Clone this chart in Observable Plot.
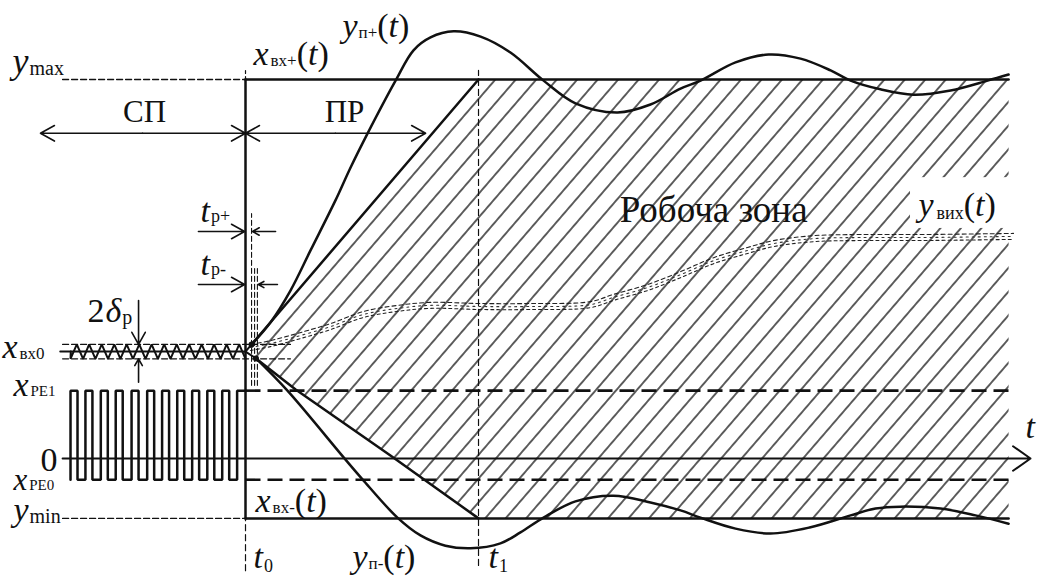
<!DOCTYPE html>
<html>
<head>
<meta charset="utf-8">
<script src="https://cdn.jsdelivr.net/npm/d3@7"></script>
<script src="https://cdn.jsdelivr.net/npm/@observablehq/plot@0.6"></script>
<style>
  html, body { margin: 0; padding: 0; background: #fff; }
  #chart svg { display: block; }
</style>
</head>
<body>
<div id="chart"></div>
<script>
// Signal levels (relative units: y_max = 10) and time marks (t0 = 0, t1 = 10)
const yMax = 10, yMin = -1.58;
const xIn0 = 2.82, xIn0Hi = 3.01, xIn0Lo = 2.63;
const xPE1 = 1.79, xPE0 = -0.56;
const t0 = 0, t1 = 10, tEnd = 32.75, tLeft = -7.85, tAxisEnd = 33.69;
const tpPlus = 0.26, tpMinus = [0.39, 0.51];

// Upper transient envelope y_п+(t)
const ypPlusT = [0.26, 1.07, 1.93, 2.79, 3.86, 4.51, 5.24, 6.44, 7.21, 7.94, 8.93, 10.09, 11.37, 12.79, 14.16, 15.97, 17.38, 18.67, 19.53, 21.03, 22.45, 23.82, 25.11, 25.97, 27.25, 28.67, 30.26, 31.85, 32.75];
const ypPlusV = [3.01, 3.59, 4.43, 5.49, 6.81, 7.68, 8.58, 9.97, 10.77, 11.11, 11.27, 11.13, 10.71, 9.97, 9.37, 9.13, 9.34, 9.76, 9.97, 10.45, 10.66, 10.55, 10.24, 9.97, 9.74, 9.60, 9.71, 9.97, 10.13];

// Lower transient envelope y_п-(t)
const ypMinusT = [0.45, 1.80, 4.21, 5.02, 6.52, 7.51, 8.58, 9.66, 10.94, 11.80, 12.79, 14.16, 15.79, 17.38, 18.67, 19.53, 21.03, 22.53, 24.21, 25.97, 27.04, 28.11, 29.83, 31.33, 32.75];
const ypMinusV = [2.64, 1.79, 0.03, -0.55, -1.56, -2.03, -2.30, -2.37, -2.24, -1.95, -1.56, -1.13, -0.98, -1.16, -1.37, -1.56, -1.85, -1.98, -1.82, -1.50, -1.32, -1.27, -1.32, -1.50, -1.72];

// Boundaries of the working zone during transition (t0..t1)
const upperT = [tpPlus, t1], upperV = [xIn0Hi, yMax];
const lowerT = [0.45, 2.15, 6.22, t1], lowerV = [2.64, 1.82, 0.08, yMin];

// Output signal y_вих(t)
const yOutT = [0.21, 1.07, 1.93, 2.79, 3.65, 5.06, 6.52, 7.94, 10.09, 12.23, 14.81, 15.79, 17.25, 18.67, 20.09, 21.55, 22.66, 24.38, 26.39, 28.97, 32.96];
const yOutV = [2.93, 3.03, 3.17, 3.32, 3.48, 3.80, 3.96, 4.04, 4.01, 4.01, 4.06, 4.25, 4.51, 4.85, 5.22, 5.49, 5.67, 5.80, 5.83, 5.83, 5.86];

// Ripple of the input x_вх0 before t0: times of upper and lower turning points
const zigTopT = [-7.24, -6.71, -6.17, -5.63, -5.10, -4.56, -4.03, -3.49, -2.95, -2.42, -1.88, -1.35, -0.81, -0.27];
const zigLowT = [-7.51, -6.97, -6.44, -5.90, -5.37, -4.83, -4.29, -3.76, -3.22, -2.68, -2.15, -1.61, -1.07, -0.54, 0.00];

// Pulse train between x_PE0 and x_PE1: rising and falling edge times
const riseT = [-7.51, -6.87, -6.21, -5.57, -4.89, -4.22, -3.58, -2.93, -2.29, -1.64, -1.00, -0.36];
const fallT = [-7.21, -6.57, -5.91, -5.27, -4.59, -3.92, -3.28, -2.63, -1.99, -1.34, -0.70, 0.00];

// Text labels: anchor position and pieces [text, size, italic, dy, gap]
const paren = [["(", 34, 0], ["t", 34, 1], [")", 34, 0]];
const labels = [
  {x: -10.00, y: 10.18, parts: [["y", 36, 1], ["max", 20, 0, 2, 1]]},
  {x: -9.96, y: -1.64, parts: [["y", 34, 1], ["min", 20, 0, 2, 1]]},
  {x: -10.43, y: 2.66, parts: [["x", 34, 1], ["вх0", 17, 0, 1, 2]]},
  {x: -9.96, y: 1.64, parts: [["x", 34, 1], ["PE1", 15, 0, 0, 2]]},
  {x: -8.80, y: -0.32, parts: [["0", 34, 0]]},
  {x: -9.96, y: -0.82, parts: [["x", 31, 1], ["PE0", 15, 0, 0, 2]]},
  {x: 0.34, y: 10.37, parts: [["x", 34, 1], ["вх+", 17, 0, 1, 2], ...paren]},
  {x: 0.43, y: -1.42, parts: [["x", 34, 1], ["вх-", 17, 0, 1, 2], ...paren]},
  {x: 4.16, y: 11.11, parts: [["y", 34, 1], ["п+", 17, 0, 1, 1], ...paren]},
  {x: 4.59, y: -2.88, parts: [["y", 34, 1], ["п-", 17, 0, 1, 1], ...paren]},
  {x: 28.88, y: 6.41, parts: [["y", 34, 1], ["вих", 18, 0, 3, 3], ...paren]},
  {x: 0.34, y: -2.90, parts: [["t", 34, 1], ["0", 18, 0, 4, 1]]},
  {x: 10.43, y: -2.90, parts: [["t", 34, 1], ["1", 18, 0, 4, 1]]},
  {x: 33.48, y: 0.53, parts: [["t", 34, 1]]},
  {x: -1.93, y: 6.23, parts: [["t", 34, 1], ["p+", 18, 0, 0, 1]]},
  {x: -1.93, y: 4.83, parts: [["t", 34, 1], ["p-", 18, 0, 0, 1]]},
  {x: -6.78, y: 3.59, parts: [["2", 34, 0], ["δ", 34, 1, 0, 1], ["p", 20, 0, 2, 1]]},
  {x: -4.33, y: 8.87, anchor: "middle", parts: [["СП", 31, 0]]},
  {x: 4.25, y: 8.87, anchor: "middle", parts: [["ПР", 31, 0]]},
  {x: 20.09, y: 6.23, anchor: "middle", parts: [["Робоча зона", 37, 0]]}
];

// ---- helpers ----
const FONT = "Liberation Serif";
const INK = "#111";
const pts = (T, V) => T.map((t, i) => ({x: t, y: V[i]}));
const seg = (x1, y1, x2, y2) => [{x: x1, y: y1}, {x: x2, y: y2}];
const line = (data, opts = {}) => Plot.line(data, {x: "x", y: "y", stroke: INK, strokeWidth: 2.5, ...opts});
const arrow = (x1, y1, x2, y2, opts = {}) =>
  Plot.arrow([{x1, y1, x2, y2}], {x1: "x1", y1: "y1", x2: "x2", y2: "y2", stroke: INK, strokeWidth: 1.6, headLength: 15, headAngle: 58, ...opts});

const ctx = document.createElement("canvas").getContext("2d");
function measure(s, size, it) {
  ctx.font = `${it ? "italic " : ""}${size}px "${FONT}"`;
  return ctx.measureText(s).width;
}
function labelMarks(l) {
  const parts = l.parts.map(([s, size, it = 0, dy = 0, gap = 0]) => ({s, size, it, dy, gap, w: measure(s, size, it)}));
  const total = d3.sum(parts, p => p.w + p.gap);
  let off = l.anchor === "middle" ? -total / 2 : 0;
  return parts.map(p => {
    off += p.gap;
    const m = Plot.text([{x: l.x, y: l.y, s: p.s}], {
      x: "x", y: "y", text: "s", dx: off, dy: p.dy,
      fontSize: p.size, fontStyle: p.it ? "italic" : "normal", fontFamily: FONT,
      textAnchor: "start", lineAnchor: "bottom", fill: INK
    });
    off += p.w;
    return m;
  });
}

// zigzag ripple path
const zig = [{x: tLeft + 0.35, y: xIn0}];
zigLowT.forEach((t, i) => {
  zig.push({x: t, y: xIn0Lo});
  if (i < zigTopT.length) zig.push({x: zigTopT[i], y: xIn0Hi});
});

// pulse train path
const pulses = [];
riseT.forEach((r, i) => {
  pulses.push({x: r, y: xPE0}, {x: r, y: xPE1}, {x: fallT[i], y: xPE1});
  if (i < riseT.length - 1) pulses.push({x: fallT[i], y: xPE0});
});

// hatched working zone polygon
const zone = [
  ...pts(upperT, upperV),
  {x: tEnd, y: yMax}, {x: tEnd, y: yMin},
  ...pts(lowerT, lowerV).reverse()
];

const thinDash = {strokeWidth: 1.3, strokeDasharray: "6,3"};
const thickDash = {strokeWidth: 2.6, strokeDasharray: "15,7", strokeLinecap: "butt"};

const chart = Plot.plot({
  width: 1037,
  height: 578,
  margin: 0,
  x: {domain: [-10.515, 33.99], axis: null},
  y: {domain: [-3.166, 12.084], axis: null},
  style: {background: "#fff", overflow: "visible"},
  marks: [
    // working zone hatch
    Plot.line(zone, {x: "x", y: "y", fill: "url(#hatch)", stroke: "none", curve: "linear"}),
    // clear area behind the output label
    Plot.rect([{x1: 28.54, x2: 32.92, y1: 6.07, y2: 7.41}], {x1: "x1", x2: "x2", y1: "y1", y2: "y2", fill: "#fff"}),

    // output signal (noisy dotted trace)
    line(pts(yOutT, yOutV), {strokeWidth: 1.1, stroke: "#222", strokeDasharray: "4,3", dy: -3, curve: "catmull-rom"}),
    line(pts(yOutT, yOutV), {strokeWidth: 1.1, stroke: "#333", strokeDasharray: "2,4", dy: 0, curve: "catmull-rom"}),
    line(pts(yOutT, yOutV), {strokeWidth: 1.1, stroke: "#222", strokeDasharray: "3,3", dy: 3, curve: "catmull-rom"}),

    // reference levels before t0
    line(seg(tLeft, yMax, t0, yMax), thinDash),
    line(seg(tLeft, yMin, t0, yMin), thinDash),
    line(seg(tLeft, xIn0Hi, 1.93, xIn0Hi), {...thinDash, strokeWidth: 1.2}),
    line(seg(tLeft, xIn0Lo, 1.93, xIn0Lo), {...thinDash, strokeWidth: 1.2}),
    line(seg(tLeft - 0.1, xIn0, t0, xIn0), {strokeWidth: 2}),
    line(zig, {strokeWidth: 2, strokeLinejoin: "miter"}),
    line(pulses, {strokeWidth: 2.5, strokeLinejoin: "miter"}),

    // input bounds x_вх+(t), x_вх-(t)
    line(seg(t0, yMax, tEnd, yMax)),
    line(seg(t0, yMin, tEnd, yMin)),
    // switching levels
    line(seg(t0, xPE1, tEnd, xPE1), thickDash),
    line(seg(t0, xPE0, tEnd, xPE0), thickDash),

    // time markers
    line(seg(t0, yMin, t0, yMax), {strokeWidth: 2.5}),
    line(seg(t0, -2.96, t0, yMin), {strokeWidth: 1.2, strokeDasharray: "6,4"}),
    line(seg(t0, yMax, t0, 10.24), {strokeWidth: 1.2, strokeDasharray: "3,3"}),
    line(seg(t1, -2.82, t1, 10.24), {strokeWidth: 1.2, strokeDasharray: "6,4"}),
    line(seg(tpPlus, 1.93, tpPlus, 6.46), {strokeWidth: 1.1, strokeDasharray: "5,3"}),
    line(seg(tpMinus[0], 1.93, tpMinus[0], 5.01), {strokeWidth: 1.1, strokeDasharray: "5,3"}),
    line(seg(tpMinus[1], 1.93, tpMinus[1], 5.01), {strokeWidth: 1.1, strokeDasharray: "5,3"}),

    // transition zone borders
    line(pts(upperT, upperV)),
    line(pts(lowerT, lowerV)),
    line(seg(t0, xIn0, upperT[0], upperV[0]), {strokeWidth: 2}),
    line(seg(t0, xIn0, lowerT[0], lowerV[0]), {strokeWidth: 2}),
    Plot.dot([{x: upperT[0], y: upperV[0]}, {x: lowerT[0], y: lowerV[0]}], {x: "x", y: "y", r: 3, fill: INK}),

    // transient envelopes
    line(pts(ypPlusT, ypPlusV), {curve: "catmull-rom"}),
    line(pts(ypMinusT, ypMinusV), {curve: "catmull-rom"}),

    // time axis
    arrow(tLeft, 0, tAxisEnd, 0, {strokeWidth: 2, headLength: 16, headAngle: 70}),

    // СП / ПР interval arrows
    arrow(-4.42, 8.58, -8.80, 8.58),
    arrow(-4.42, 8.58, t0, 8.58),
    arrow(3.86, 8.58, t0, 8.58),
    arrow(3.86, 8.58, 7.73, 8.58),

    // t_p+ and t_p- dimension arrows
    arrow(-2.02, 5.99, -0.04, 5.99, {headLength: 14}),
    arrow(1.29, 5.99, tpPlus + 0.04, 5.99, {headLength: 14}),
    arrow(-2.02, 4.59, -0.04, 4.59, {headLength: 14}),
    arrow(1.37, 4.59, tpMinus[1] + 0.04, 4.59, {headLength: 14}),

    // 2δ_p ripple band arrows
    arrow(-4.59, 4.17, -4.59, xIn0Hi, {headLength: 13}),
    arrow(-4.59, 2.01, -4.59, xIn0Lo, {headLength: 13}),

    // labels
    ...labels.flatMap(labelMarks)
  ]
});

// diagonal hatch pattern for the working zone
const defs = d3.select(chart).insert("defs", ":first-child");
const pat = defs.append("pattern")
  .attr("id", "hatch")
  .attr("patternUnits", "userSpaceOnUse")
  .attr("width", 15.5)
  .attr("height", 15.5)
  .attr("patternTransform", "rotate(40.8)");
pat.append("line")
  .attr("x1", 7.75).attr("y1", -1).attr("x2", 7.75).attr("y2", 16.5)
  .attr("stroke", "#000").attr("stroke-width", 1.25);

document.getElementById("chart").append(chart);
</script>
</body>
</html>
